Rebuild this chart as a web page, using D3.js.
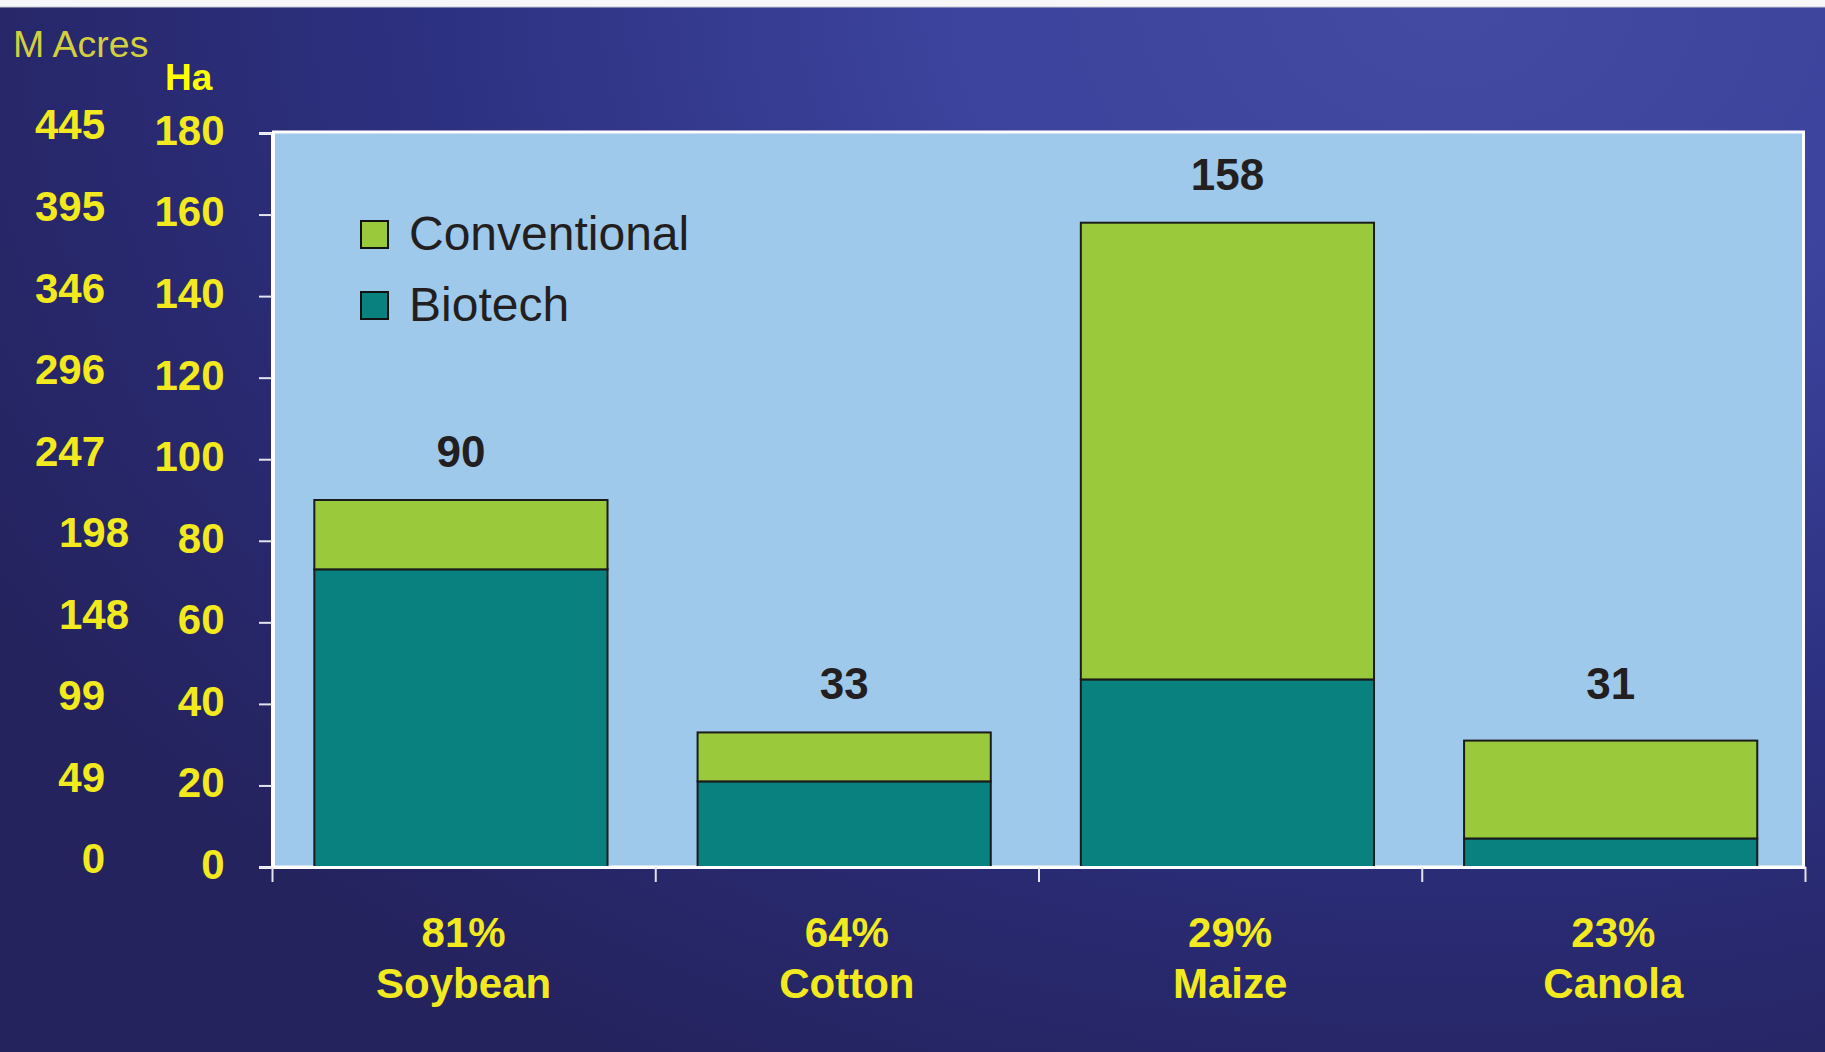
<!DOCTYPE html>
<html>
<head>
<meta charset="utf-8">
<script src="https://cdn.jsdelivr.net/npm/d3@7"></script>
<style>
  html, body { margin: 0; padding: 0; background: #25235e; }
  svg { display: block; }
  text { font-family: "Liberation Sans", Arial, Helvetica, sans-serif; }
</style>
</head>
<body>
<svg id="chart" width="1825" height="1052"></svg>
<script>
// Crop area, million hectares
const crops = ["Soybean", "Cotton", "Maize", "Canola"];
const totalHa = [90, 33, 158, 31];
const biotechHa = [73, 21, 46, 7];
const conventionalHa = [17, 12, 112, 24];

// Axis ticks: hectares, with the matching million-acre labels
const haTicks = [0, 20, 40, 60, 80, 100, 120, 140, 160, 180];
const acreTickLabels = ["0", "49", "99", "148", "198", "247", "296", "346", "395", "445"];

const seriesKeys = ["biotech", "conventional"];
const legendItems = [
  { key: "conventional", label: "Conventional" },
  { key: "biotech", label: "Biotech" }
];

const W = 1825, H = 1052;
const plot = { left: 272, right: 1805, top: 132, bottom: 867 };

const colors = { biotech: "#08817f", conventional: "#9aca3c" };
const yellow = "#f2ea1e";

const svg = d3.select("#chart");

// Background: dark navy brightening towards the upper right
const defs = svg.append("defs");
const bg = defs.append("radialGradient")
  .attr("id", "bg").attr("gradientUnits", "userSpaceOnUse")
  .attr("cx", 1450).attr("cy", 0).attr("r", 1350)
  .attr("gradientTransform", "translate(1450,0) scale(1.25,0.9) translate(-1450,0)");
bg.append("stop").attr("offset", 0).attr("stop-color", "#434aa1");
bg.append("stop").attr("offset", 0.3).attr("stop-color", "#3c439c");
bg.append("stop").attr("offset", 0.6).attr("stop-color", "#2d3181");
bg.append("stop").attr("offset", 0.85).attr("stop-color", "#27276a");
bg.append("stop").attr("offset", 1).attr("stop-color", "#25235e");

svg.append("rect").attr("width", W).attr("height", H).attr("fill", "url(#bg)");
svg.append("rect").attr("width", W).attr("height", 7).attr("fill", "#f7f7f9");
svg.append("line").attr("x1", 0).attr("x2", W).attr("y1", 7).attr("y2", 7)
  .attr("stroke", "#c9c9d4").attr("stroke-width", 1);

// Scales
const y = d3.scaleLinear().domain([0, 180]).range([plot.bottom, 133]);
const x = d3.scaleBand().domain(crops).range([plot.left, plot.right])
  .paddingInner(0.235).paddingOuter(0.1175).align(0.47);
const xEdge = d3.scaleLinear().domain([0, crops.length]).range([plot.left, plot.right]);

// Plot area
svg.append("rect")
  .attr("x", plot.left + 1.5).attr("y", plot.top)
  .attr("width", plot.right - plot.left - 3).attr("height", plot.bottom - plot.top)
  .attr("fill", "#9fc9eb").attr("stroke", "#ffffff").attr("stroke-width", 3);

// Stacked bars
const rows = crops.map((c, i) => ({
  crop: c, index: i, biotech: biotechHa[i], conventional: conventionalHa[i], total: totalHa[i]
}));
const stacked = d3.stack().keys(seriesKeys)(rows);

svg.append("g").selectAll("g")
  .data(stacked)
  .join("g")
  .attr("fill", d => colors[d.key])
  .selectAll("rect")
  .data(d => d)
  .join("rect")
  .attr("x", d => x(d.data.crop))
  .attr("width", x.bandwidth())
  .attr("y", d => y(d[1]))
  .attr("height", d => y(d[0]) - y(d[1]))
  .attr("stroke", "#1b1b1b").attr("stroke-width", 2);

// Totals above bars (short bars share one label line)
const labelFloor = y(33) - 33;
svg.append("g").selectAll("text")
  .data(rows)
  .join("text")
  .attr("x", d => x(d.crop) + x.bandwidth() / 2)
  .attr("y", d => Math.min(y(d.total) - 33, labelFloor))
  .attr("text-anchor", "middle")
  .attr("font-size", 44).attr("font-weight", "bold").attr("fill", "#231f20")
  .text(d => d.total);

// Hectare axis
const yAxis = svg.append("g")
  .attr("transform", `translate(${plot.left},0)`)
  .call(d3.axisLeft(y).tickValues(haTicks).tickSize(13).tickPadding(34.5).tickFormat(d3.format("d")));
yAxis.select(".domain").attr("stroke", "#ffffff").attr("stroke-width", 3);
yAxis.selectAll(".tick line").attr("stroke", "#e4e4ee").attr("stroke-width", 2);
yAxis.selectAll(".tick text")
  .attr("fill", yellow).attr("font-size", 42).attr("font-weight", "bold")
  .attr("font-family", null).attr("dy", "0.27em");

// Million-acre labels; the three-digit values below 200 sit further right
const acreIndent = { "198": 24, "148": 24 };
const acreAxis = svg.append("g")
  .attr("transform", `translate(${plot.left},0)`)
  .call(d3.axisLeft(y).tickValues(haTicks).tickSize(0).tickPadding(167)
    .tickFormat((d, i) => acreTickLabels[i]));
acreAxis.select(".domain").remove();
acreAxis.selectAll(".tick text")
  .attr("fill", yellow).attr("font-size", 42).attr("font-weight", "bold")
  .attr("font-family", null).attr("dy", "0.14em")
  .attr("x", function () { return -167 + (acreIndent[this.textContent] || 0); });

// Category axis with ticks at band edges
const xAxis = svg.append("g")
  .attr("transform", `translate(0,${plot.bottom})`)
  .call(d3.axisBottom(xEdge).tickValues(d3.range(crops.length + 1)).tickSize(15)
    .tickSizeOuter(0).tickFormat(""));
xAxis.select(".domain").attr("stroke", "#ffffff").attr("stroke-width", 3);
xAxis.selectAll(".tick line").attr("stroke", "#e4e4ee").attr("stroke-width", 2);

// Category labels centred between the edge ticks: biotech share over crop name
const pct = d3.format(".0%");
const midX = d => xEdge(d.index + 0.5);
const catLabels = svg.append("g").selectAll("text")
  .data(rows)
  .join("text")
  .attr("x", midX)
  .attr("text-anchor", "middle")
  .attr("font-size", 42).attr("font-weight", "bold").attr("fill", yellow);
catLabels.append("tspan").attr("x", midX).attr("y", 947)
  .text(d => pct(d.biotech / d.total));
catLabels.append("tspan").attr("x", midX).attr("y", 998)
  .text(d => d.crop);

// Unit captions
svg.append("text").attr("x", 13).attr("y", 57)
  .attr("font-size", 37.5).attr("fill", "#d3cf3e").text("M Acres");
svg.append("text").attr("x", 165).attr("y", 90)
  .attr("font-size", 37).attr("font-weight", "bold").attr("fill", "#ffff00").text("Ha");

// Legend
const legend = svg.append("g").attr("transform", "translate(361,221)");
const li = legend.selectAll("g").data(legendItems).join("g")
  .attr("transform", (d, i) => `translate(0,${i * 71})`);
li.append("rect").attr("width", 27).attr("height", 27)
  .attr("fill", d => colors[d.key]).attr("stroke", "#111").attr("stroke-width", 2);
li.append("text").attr("x", 48).attr("y", 29)
  .attr("font-size", 48).attr("fill", "#231f20").text(d => d.label);
</script>
</body>
</html>
